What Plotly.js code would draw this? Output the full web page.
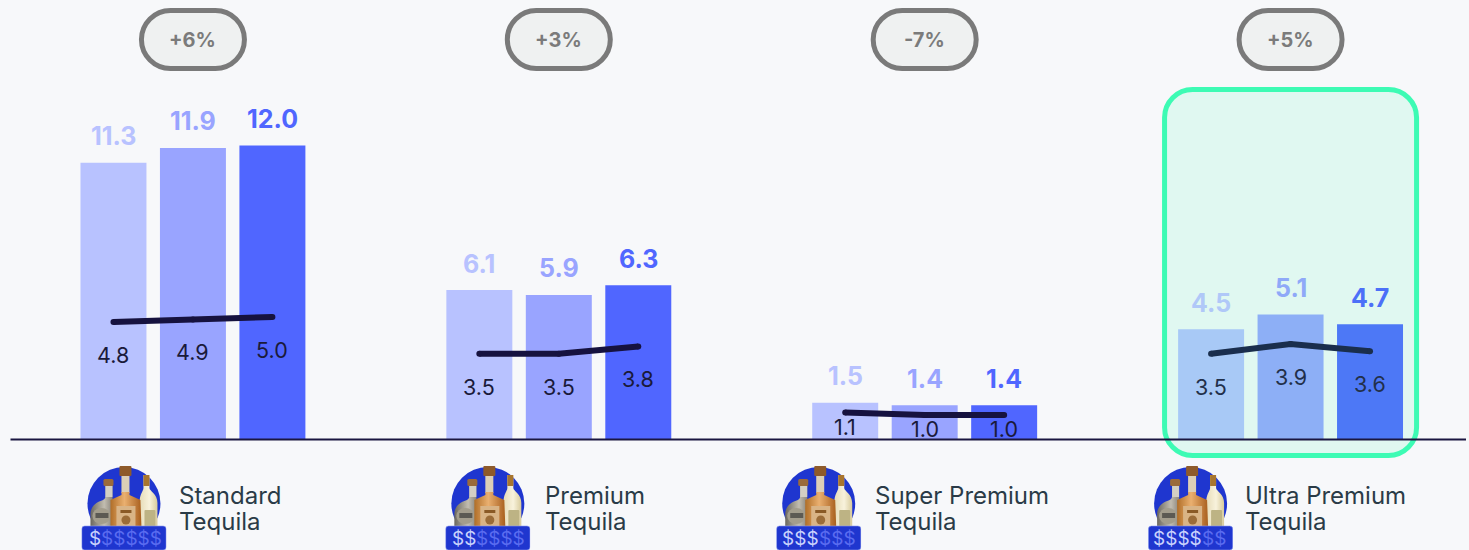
<!DOCTYPE html>
<html>
<head>
<meta charset="utf-8">
<script src="https://cdn.plot.ly/plotly-3.0.1.min.js"></script>
<style>html,body{margin:0;padding:0;background:#f7f8fa;overflow:hidden}</style>
</head>
<body>
<div id="chart" style="width:1469px;height:550px"></div>
<script>
const groups = [0, 1, 2, 3];
const categoryLine1 = ['Standard', 'Premium', 'Super Premium', 'Ultra Premium'];
const categoryLine2 = ['Tequila', 'Tequila', 'Tequila', 'Tequila'];
const changes = ['+6%', '+3%', '-7%', '+5%'];
const bars1 = [11.3, 6.1, 1.5, 4.5];
const bars2 = [11.9, 5.9, 1.4, 5.1];
const bars3 = [12.0, 6.3, 1.4, 4.7];
const line1 = [4.8, 3.5, 1.1, 3.5];
const line2 = [4.9, 3.5, 1.0, 3.9];
const line3 = [5.0, 3.8, 1.0, 3.6];
const priceLevels = [1, 2, 3, 4];

const W = 1469, H = 550, L = 9.5, R = 3, BASE = 439.5, PXU = 24.5, GROUP_PX = 366, STEP = 79.5 / 366;
const colors = ['#b8c2ff', '#99a4ff', '#5066ff'];
const tinted = ['#b0c8f8', '#8fa9f8', '#4c70f8'];
const iconLeft = [81, 445, 776, 1148];
const labelLeft = [180, 545.5, 876, 1246];
const DOLLAR_W = 11.5;

const px = x => (x - L) / (W - L - R);
const py = y => 1 - y / H;

const barSeries = [bars1, bars2, bars3];
const lineSeries = [line1, line2, line3];

const traces = barSeries.map((vals, j) => ({
  type: 'bar', x: groups, y: vals, marker: {color: colors[j], line: {width: 0}},
  hoverinfo: 'y', showlegend: false
}));
groups.forEach((g, i) => {
  traces.push({
    type: 'scatter', mode: 'lines+markers',
    x: [-1, 0, 1].map(o => g + o * STEP),
    y: lineSeries.map(s => s[i]),
    line: {color: '#16123f', width: 6},
    marker: {color: '#16123f', size: 6},
    hoverinfo: 'y', showlegend: false
  });
});

function rr(x0, x1, y0, y1, r) {
  // y measured upward from the anchor, pixel-sized path, circular corners as cubics
  const k = r * 0.4477;
  return `M${x0 + r},${y1} L${x1 - r},${y1} C${x1 - k},${y1} ${x1},${y1 - k} ${x1},${y1 - r} ` +
    `L${x1},${y0 + r} C${x1},${y0 + k} ${x1 - k},${y0} ${x1 - r},${y0} ` +
    `L${x0 + r},${y0} C${x0 + k},${y0} ${x0},${y0 + k} ${x0},${y0 + r} ` +
    `L${x0},${y1 - r} C${x0},${y1 - k} ${x0 + k},${y1} ${x0 + r},${y1} Z`;
}

const shapes = [];
groups.forEach(g => {
  shapes.push({
    type: 'path', layer: 'above', xref: 'x', yref: 'y',
    xsizemode: 'pixel', ysizemode: 'pixel', xanchor: g, yanchor: 0,
    path: rr(-51.5, 51.5, 371, 429, 29),
    fillcolor: '#eff1f1', line: {color: '#7a7a7a', width: 5}
  });
});
shapes.push({
  type: 'path', layer: 'above', xref: 'x', yref: 'y',
  xsizemode: 'pixel', ysizemode: 'pixel', xanchor: 3, yanchor: 0,
  path: rr(-126, 126, -16, 350, 28),
  fillcolor: 'rgba(61,251,180,0.12)', line: {color: '#3dfbb4', width: 5}
});
shapes.push({
  type: 'line', layer: 'above', xref: 'paper', yref: 'y', x0: px(10), x1: 1, y0: 0, y1: 0,
  line: {color: '#1a1640', width: 2}
});

const annotations = [];
groups.forEach((g, i) => {
  annotations.push({
    x: g, y: 1, xref: 'x', yref: 'paper', yanchor: 'middle', yshift: -40, showarrow: false,
    text: changes[i], font: {family: 'Inter', size: 20, color: '#7b7b7b', weight: 700}
  });
  [-1, 0, 1].forEach((o, j) => {
    annotations.push({
      x: g + o * STEP, y: barSeries[j][i], xref: 'x', yref: 'y', yanchor: 'middle', yshift: 26.5, showarrow: false,
      text: barSeries[j][i].toFixed(1),
      font: {family: 'Inter', size: 25, weight: 700, color: i === 3 ? tinted[j] : colors[j]}
    });
    const small = lineSeries[j][i] < 2;
    annotations.push({
      x: g + o * STEP, y: lineSeries[j][i], xref: 'x', yref: 'y', yanchor: 'middle', yshift: small ? -14 : -33, showarrow: false,
      text: lineSeries[j][i].toFixed(1),
      font: {family: 'Inter', size: 21.5, color: i === 3 ? '#22304a' : '#1a1a3a'}
    });
  });
  annotations.push({
    x: px(labelLeft[i]), y: py(495), xref: 'paper', yref: 'paper', xanchor: 'left', yanchor: 'middle', showarrow: false,
    xshift: -3, text: categoryLine1[i], font: {family: 'Inter', size: 24, color: '#2a3b47'}
  });
  annotations.push({
    x: px(labelLeft[i]), y: py(521), xref: 'paper', yref: 'paper', xanchor: 'left', yanchor: 'middle', showarrow: false,
    xshift: -3, text: categoryLine2[i], font: {family: 'Inter', size: 24, color: '#2a3b47'}
  });
  const split = iconLeft[i] + 8 + priceLevels[i] * DOLLAR_W;
  annotations.push({
    x: px(split), y: py(538), xref: 'paper', yref: 'paper', xanchor: 'right', yanchor: 'middle', showarrow: false,
    xshift: 2, text: '$'.repeat(priceLevels[i]), font: {family: 'Inter', size: 19, color: '#c9d2fd'}
  });
  annotations.push({
    x: px(split), y: py(538), xref: 'paper', yref: 'paper', xanchor: 'left', yanchor: 'middle', showarrow: false,
    xshift: -2, text: '$'.repeat(6 - priceLevels[i]), font: {family: 'Inter', size: 19, color: '#5a6cf0'}
  });
});

const iconSvg = `<svg xmlns="http://www.w3.org/2000/svg" width="85" height="86" viewBox="0 0 85 86">
<defs>
<linearGradient id="a" x1="0" x2="1"><stop offset="0" stop-color="#b06e28"/><stop offset=".45" stop-color="#eab070"/><stop offset="1" stop-color="#a85f1e"/></linearGradient>
<linearGradient id="b" x1="0" x2="1"><stop offset="0" stop-color="#6b675e"/><stop offset=".55" stop-color="#c2bdb0"/><stop offset="1" stop-color="#77726a"/></linearGradient>
<linearGradient id="c" x1="0" x2="1"><stop offset="0" stop-color="#e6dcb8"/><stop offset=".55" stop-color="#f8f2dc"/><stop offset="1" stop-color="#d8cb9c"/></linearGradient>
<filter id="s" x="-5%" y="-5%" width="110%" height="110%"><feGaussianBlur stdDeviation="0.5"/></filter>
</defs>
<circle cx="42.5" cy="39.5" r="36.5" fill="#1f36cf"/>
<g filter="url(#s)">
<path d="M24 22h7v11c0 4 1 6 2 8l1 22H9V50c0-6 4-11 10-13 3-1 5-2 5-5z" fill="url(#b)"/>
<rect x="22" y="15" width="10" height="7" rx="1.5" fill="#9a6a3a"/>
<rect x="24" y="22" width="7" height="11" fill="#d3cfc4"/>
<ellipse cx="20" cy="52" rx="9" ry="8" fill="#a39d8c"/>
<rect x="14" y="49" width="13" height="5" fill="#5c5a52"/>
<path d="M62 11h6v13c0 3 8 6 8 15v24H58V39c0-9 4-12 4-15z" fill="url(#c)"/>
<rect x="62" y="11" width="6" height="11" fill="#a8752f"/>
<rect x="63" y="46" width="11" height="17" rx="1" fill="#bdb384"/>
<rect x="38" y="2" width="12" height="10" rx="1" fill="#8e5a2c"/>
<rect x="40" y="12" width="8" height="17" fill="#dccfb6"/>
<path d="M40 28h8v3l11 5 1 27H29V36l11-5z" fill="url(#a)"/>
<rect x="35" y="42" width="19" height="21" fill="#d9b486"/>
<rect x="39" y="46" width="11" height="3" fill="#8a5a28"/>
<circle cx="44.5" cy="56" r="4.5" fill="#9b6c38"/>
</g>
<rect x="0.3" y="62" width="84.4" height="24" rx="3" fill="#1f36cf" stroke="#8d9cf0" stroke-width="0.6"/>
</svg>`;
const iconUri = 'data:image/svg+xml;base64,' + btoa(iconSvg);
const images = groups.map(i => ({
  source: iconUri, xref: 'paper', yref: 'paper',
  x: px(iconLeft[i]), y: py(464), sizex: 85 / (W - L - R), sizey: 86 / H,
  xanchor: 'left', yanchor: 'top', sizing: 'stretch', layer: 'above'
}));

const layout = {
  width: W, height: H,
  margin: {l: L, r: R, t: 0, b: 0, pad: 0},
  paper_bgcolor: '#f7f8fa', plot_bgcolor: '#f7f8fa',
  barmode: 'group', bargap: 1 - 238.5 / GROUP_PX, bargroupgap: 13.5 / 79.5,
  showlegend: false,
  xaxis: {range: [-0.5, (W - L - R) / GROUP_PX - 0.5], visible: false, fixedrange: true},
  yaxis: {range: [-(H - BASE) / PXU, BASE / PXU], visible: false, fixedrange: true},
  shapes, annotations, images
};
Plotly.newPlot('chart', traces, layout, {displayModeBar: false, staticPlot: true});
</script>
</body>
</html>
